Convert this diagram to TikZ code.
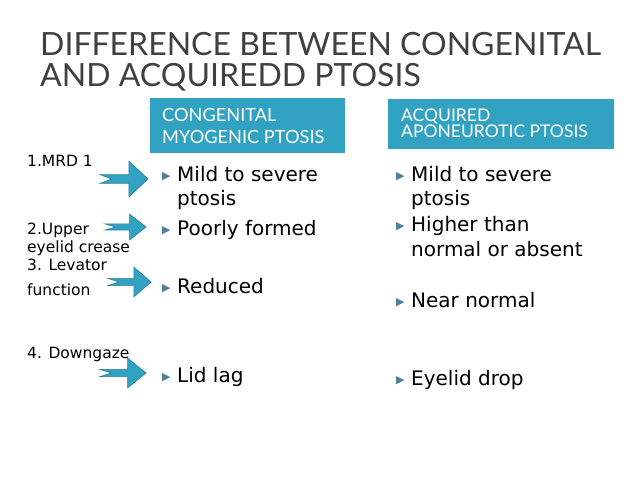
\documentclass[tikz,border=0pt]{standalone}
\usepackage{fontspec}
\setmainfont{DejaVu Sans}
\newfontfamily\headfont{Lato}
\definecolor{teal}{HTML}{31A2C2}
\definecolor{tealdark}{HTML}{2A7F99}
\definecolor{titlegray}{HTML}{404040}
\definecolor{bulletc}{HTML}{4F7F9A}
\tikzset{
  titletext/.style={anchor=base west, inner sep=0pt, text=titlegray, font=\headfont\fontsize{32}{36}\selectfont},
  headtext/.style={anchor=base west, inner sep=0pt, text=white, font=\headfont\fontsize{18.2}{21}\selectfont},
  headtextb/.style={headtext, font=\headfont\fontsize{17.5}{20}\selectfont},
  body/.style={anchor=base west, inner sep=0pt, font=\fontsize{20}{24}\selectfont},
  side/.style={anchor=base west, inner sep=0pt, font=\fontsize{15.5}{18}\selectfont},
  bul/.style={anchor=base west, inner sep=0pt, text=bulletc, font=\fontsize{11}{13}\selectfont}
}
% block arrow with notched tail: x, y (centre), length, half height
\newcommand{\blockarrow}[4]{%
  \fill[teal, draw=tealdark, line width=0.6pt]
    (#1,#2-0.24*#4) -- ++(0.6*#3,0) -- (#1+0.6*#3,#2-#4) -- (#1+#3,#2)
    -- (#1+0.6*#3,#2+#4) -- (#1+0.6*#3,#2+0.24*#4) -- (#1,#2+0.24*#4)
    -- (#1+0.25*#3,#2) -- cycle;}
\begin{document}
\begin{tikzpicture}[x=1pt,y=-1pt]
  \useasboundingbox (0,0) rectangle (638,479);
  % title
  \node[titletext] (t1) at (40,56) {DIFFERENCE BETWEEN CONGENITAL};
  \node[titletext] (t2) at (40,86) {AND ACQUIREDD PTOSIS};
  % column headers
  \fill[teal] (150,98) rectangle (345,153);
  \fill[teal] (388,99) rectangle (614,149);
  \node[headtext] (h1) at (162,121) {CONGENITAL};
  \node[headtext] (h1b) at (162,143) {MYOGENIC PTOSIS};
  \node[headtextb] (h2) at (401,121) {ACQUIRED};
  \node[headtextb] (h2b) at (401,137) {APONEUROTIC PTOSIS};
  % row labels
  \node[side] (r1) at (27,166) {1.MRD 1};
  \node[side] (r2) at (27,234) {2.Upper};
  \node[side] (r2b) at (27,252) {eyelid crease};
  \node[side] (r3) at (27,270) {3. Levator};
  \node[side] (r3b) at (27,295) {function};
  \node[side] (r4) at (27,358) {4. Downgaze};
  % arrows
  \blockarrow{100}{179}{48}{18}
  \blockarrow{105}{227}{41}{13}
  \blockarrow{108}{282}{43}{15}
  \blockarrow{100}{373}{46}{15}
  % congenital column
  \foreach \y in {181,235,293,382}
    \node[bul] at (162,\y-2) {▶};
  \node[body] (c1) at (177,181) {Mild to severe};
  \node[body] (c1b) at (177,205) {ptosis};
  \node[body] (c2) at (177,235) {Poorly formed};
  \node[body] (c3) at (177,293) {Reduced};
  \node[body] (c4) at (177,382) {Lid lag};
  % acquired column
  \foreach \y in {181,231,307,385}
    \node[bul] at (396,\y-2) {▶};
  \node[body] (a1) at (411,181) {Mild to severe};
  \node[body] (a1b) at (411,205) {ptosis};
  \node[body] (a2) at (411,231) {Higher than};
  \node[body] (a2b) at (411,256) {normal or absent};
  \node[body] (a3) at (411,307) {Near normal};
  \node[body] (a4) at (411,385) {Eyelid drop};
\end{tikzpicture}
\end{document}
